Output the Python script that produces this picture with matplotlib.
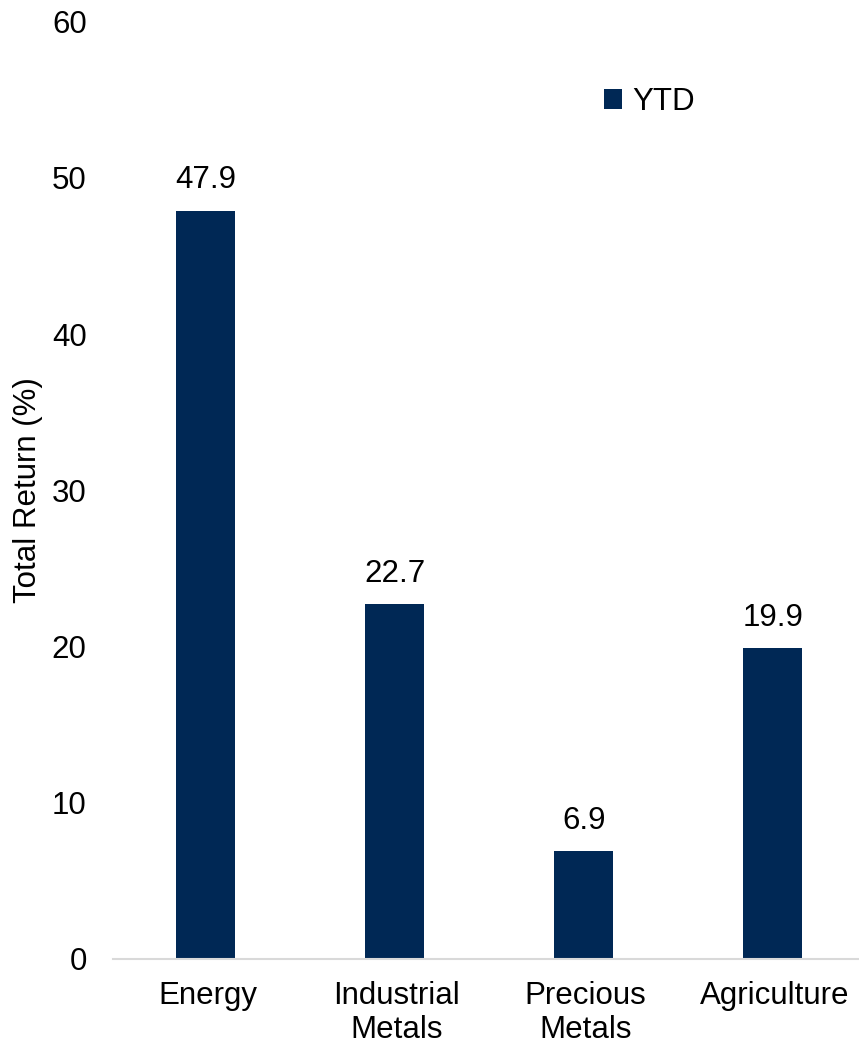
import matplotlib.pyplot as plt

plt.rcParams['font.family'] = ['Liberation Sans', 'DejaVu Sans']

# data
categories = ["Energy", "Industrial\nMetals", "Precious\nMetals", "Agriculture"]
ytd = [47.9, 22.7, 6.9, 19.9]

navy = "#002855"
fs = 22.5

fig = plt.figure(figsize=(8.59, 10.46), dpi=100)
ax = fig.add_axes([0.1316, 0.0832, 0.8684, 0.896])

x = range(len(categories))
bars = ax.bar([i - 0.01 for i in x], ytd, width=0.31, color=navy, label="YTD", zorder=2)

for b, v in zip(bars, ytd):
    ax.text(b.get_x() + b.get_width() / 2, v + 1.0, f"{v:.1f}",
            ha="center", va="bottom", fontsize=fs)

ax.set_ylim(0, 60)
ax.set_xlim(-0.5, 3.447)
ax.set_yticks(range(0, 61, 10))
ax.set_xticks(list(x))
ax.set_xticklabels(categories, fontsize=fs, linespacing=1.15)
ax.tick_params(axis="y", labelsize=fs, length=0, pad=19)
ax.tick_params(axis="x", length=0, pad=16)
ax.set_ylabel("Total Return (%)", fontsize=fs, labelpad=6)

for s in ["top", "right", "left"]:
    ax.spines[s].set_visible(False)
ax.spines["bottom"].set_color("#d9d9d9")
ax.spines["bottom"].set_linewidth(1.5)

ax.legend(loc="upper left", bbox_to_anchor=(0.62, 0.96), frameon=False,
          fontsize=fs, handlelength=0.6, handleheight=0.6, handletextpad=0.3)

fig.savefig("out.png", dpi=100)
